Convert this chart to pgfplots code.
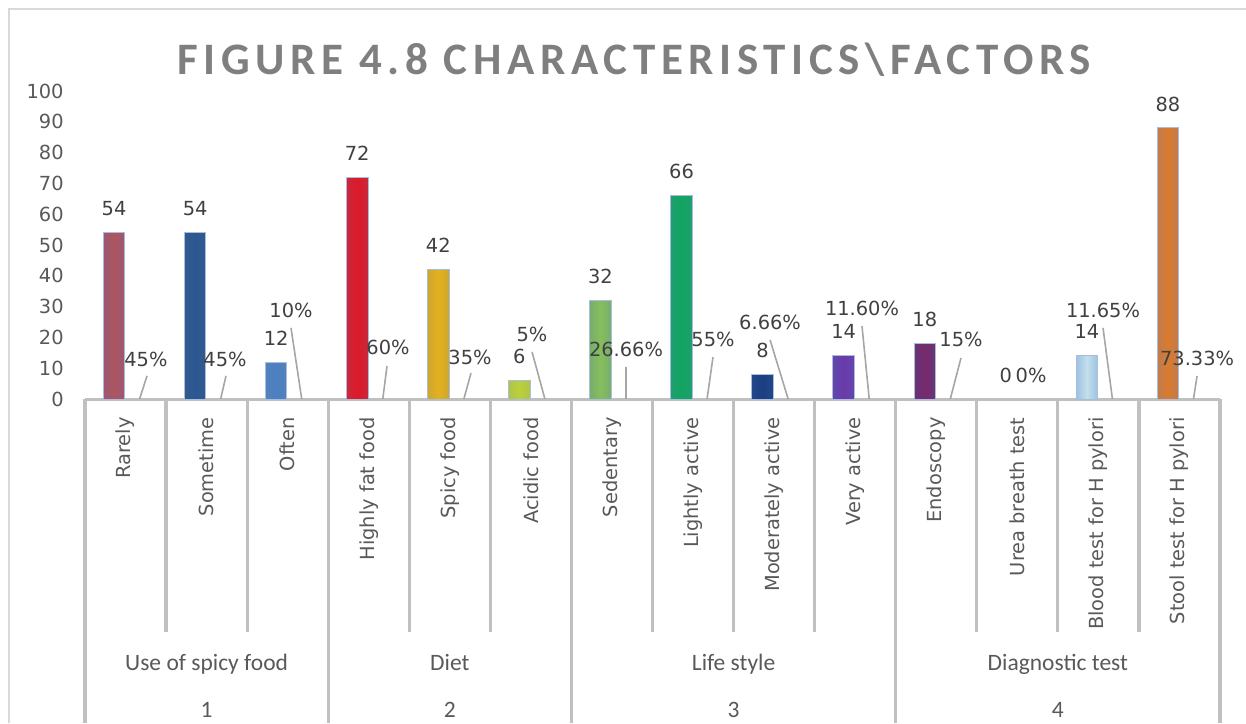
\documentclass[border=0pt]{standalone}
\usepackage{fontspec}
\setmainfont{DejaVu Sans}
\newfontfamily\calibri{Carlito}
\newfontfamily\titlefont[LetterSpace=12.5]{Carlito}
\usepackage{pgfplots}
\pgfplotsset{compat=1.18}

\definecolor{tickc}{HTML}{595959}
\definecolor{labc}{HTML}{404040}
\definecolor{axgray}{HTML}{C0C0C0}
\definecolor{framegray}{HTML}{D9D9D9}
\definecolor{ttl}{HTML}{7F7F7F}
\definecolor{leadc}{HTML}{A6A6A6}
\definecolor{bord}{HTML}{A9BEDD}
\definecolor{r0i}{HTML}{AD5562}\definecolor{r0o}{HTML}{8C5A7E}
\definecolor{r1i}{HTML}{2B5792}\definecolor{r1o}{HTML}{3A5C8C}
\definecolor{r2i}{HTML}{4C80C0}\definecolor{r2o}{HTML}{5882BD}
\definecolor{r3i}{HTML}{DC1A28}\definecolor{r3o}{HTML}{B8344C}
\definecolor{r4i}{HTML}{E3B11E}\definecolor{r4o}{HTML}{B9A03E}
\definecolor{r5i}{HTML}{BCD03A}\definecolor{r5o}{HTML}{A3BC55}
\definecolor{r6i}{HTML}{86BE5C}\definecolor{r6o}{HTML}{6BA07C}
\definecolor{r7i}{HTML}{12A45E}\definecolor{r7o}{HTML}{2A9A84}
\definecolor{r8i}{HTML}{1A3E80}\definecolor{r8o}{HTML}{2D4F90}
\definecolor{r9i}{HTML}{6A3AAA}\definecolor{r9o}{HTML}{5B52AC}
\definecolor{r10i}{HTML}{772A6B}\definecolor{r10o}{HTML}{5E3C80}
\definecolor{r12i}{HTML}{C4DFEC}\definecolor{r12o}{HTML}{7AAAD9}
\definecolor{r13i}{HTML}{DA7B2E}\definecolor{r13o}{HTML}{A87C6C}

\pgfplotsset{
  mybar/.style 2 args={ybar, bar width=10.75pt, bar shift=-5.75pt,
    draw=bord, line width=0.5pt,
    left color=#1!45!#2, right color=#1!45!#2, middle color=#1,
    nodes near coords},
}
\tikzset{
  pct/.style={font=\fontsize{9.7}{11}\selectfont, text=labc, inner sep=0pt},
  lead/.style={draw=leadc, line width=0.8pt},
  divl/.style={draw=axgray, line width=1.6pt},
  grp/.style={font=\calibri\fontsize{11.75}{13}\selectfont, text=tickc, inner sep=0pt, anchor=base},
}

\begin{document}
\begin{tikzpicture}[x=0.5pt,y=0.5pt]
\useasboundingbox (0,0) rectangle (1246,723);
\draw[framegray, line width=1pt] (8.5,0) -- (8.5,714) -- (1246,714);
\node[anchor=base, font=\titlefont\bfseries\fontsize{22.5}{26}\selectfont, text=ttl, inner sep=0pt] at (634,648) {FIGURE 4.8 CHARACTERISTICS\textbackslash FACTORS};
\begin{axis}[
  at={(42.5pt,162pt)}, anchor=south west,
  scale only axis, width=567.5pt, height=154pt,
  xmin=-0.5, xmax=13.5, ymin=0, ymax=100,
  clip=false,
  axis lines*=left,
  x axis line style={draw=axgray, line width=1.5pt},
  y axis line style={draw=none},
  major tick length=0pt,
  tick style={draw=none},
  ytick={0,10,...,100},
  /pgf/number format/assume math mode=true,
  yticklabel style={font=\fontsize{9.7}{11}\selectfont, text=tickc, inner sep=0pt, anchor=east, xshift=-10.5pt},
  xtick={0,...,13},
  xticklabels={Rarely, Sometime, Often, Highly fat food, Spicy food, Acidic food, Sedentary, Lightly active, Moderately active, Very active, Endoscopy, Urea breath test, Blood test for H pylori, Stool test for H pylori},
  xticklabel style={font=\fontsize{9.7}{11}\selectfont, text=tickc, rotate=90, anchor=east, inner sep=0pt},
  xticklabel shift=9pt,
  every node near coord/.append style={font=\fontsize{9.7}{11}\selectfont, text=labc, anchor=center, xshift=-5.75pt, yshift=12pt, inner sep=0pt},
]
% dividers
\pgfplotsinvokeforeach{0.5,1.5,3.5,4.5,6.5,7.5,8.5,10.5,11.5,12.5}{
  \draw[divl] (axis cs:#1,0) -- ++(0pt,-116.5pt);
}
\pgfplotsinvokeforeach{-0.5,2.5,5.5,9.5,13.5}{
  \draw[divl] (axis cs:#1,0) -- ++(0pt,-162pt);
}
% bars (counts)
\addplot[mybar={r0i}{r0o}] coordinates {(0,54)};
\addplot[mybar={r1i}{r1o}] coordinates {(1,54)};
\addplot[mybar={r2i}{r2o}] coordinates {(2,12)};
\addplot[mybar={r3i}{r3o}] coordinates {(3,72)};
\addplot[mybar={r4i}{r4o}] coordinates {(4,42)};
\addplot[mybar={r5i}{r5o}] coordinates {(5,6)};
\addplot[mybar={r6i}{r6o}] coordinates {(6,32)};
\addplot[mybar={r7i}{r7o}] coordinates {(7,66)};
\addplot[mybar={r8i}{r8o}] coordinates {(8,8)};
\addplot[mybar={r9i}{r9o}] coordinates {(9,14)};
\addplot[mybar={r10i}{r10o}] coordinates {(10,18)};
\addplot[ybar, bar width=10.75pt, bar shift=-5.75pt, draw=none, fill=none, nodes near coords] coordinates {(11,0)};
\addplot[mybar={r12i}{r12o}] coordinates {(12,14)};
\addplot[mybar={r13i}{r13o}] coordinates {(13,88)};
% percentage labels with leader lines
\node[pct] at (axis cs:0.252,13.0) {45\%};
\draw[lead] (axis cs:0.265,7.5) -- (axis cs:0.173,0);
\node[pct] at (axis cs:1.227,13.0) {45\%};
\draw[lead] (axis cs:1.239,7.5) -- (axis cs:1.173,0);
\node[pct] at (axis cs:2.041,28.9) {10\%};
\draw[lead] (axis cs:2.041,23.1) -- (axis cs:2.173,0);
\node[pct] at (axis cs:3.238,16.6) {60\%};
\draw[lead] (axis cs:3.225,10.7) -- (axis cs:3.173,0);
\node[pct] at (axis cs:4.249,13.6) {35\%};
\draw[lead] (axis cs:4.261,8.4) -- (axis cs:4.173,0);
\node[pct] at (axis cs:5.014,21.1) {5\%};
\draw[lead] (axis cs:5.014,15.3) -- (axis cs:5.173,0);
\node[pct] at (axis cs:6.173,16.2) {26.66\%};
\draw[lead] (axis cs:6.173,10.4) -- (axis cs:6.173,0);
\node[pct] at (axis cs:7.246,19.5) {55\%};
\draw[lead] (axis cs:7.246,13.6) -- (axis cs:7.173,0);
\node[pct] at (axis cs:7.95,25.0) {6.66\%};
\draw[lead] (axis cs:7.95,19.2) -- (axis cs:8.173,0);
\node[pct] at (axis cs:9.084,29.5) {11.60\%};
\draw[lead] (axis cs:9.084,23.7) -- (axis cs:9.173,0);
\node[pct] at (axis cs:10.305,19.2) {15\%};
\draw[lead] (axis cs:10.305,13.3) -- (axis cs:10.173,0);
\node[pct] at (axis cs:11.17,7.8) {0\%};
\node[pct] at (axis cs:12.057,28.9) {11.65\%};
\draw[lead] (axis cs:12.057,23.1) -- (axis cs:12.173,0);
\node[pct] at (axis cs:13.217,13.3) {73.33\%};
\draw[lead] (axis cs:13.217,7.5) -- (axis cs:13.173,0);
% group labels
\node[grp, yshift=-135.5pt] at (axis cs:1,0) {Use of spicy food};
\node[grp, yshift=-135.5pt] at (axis cs:4,0) {Diet};
\node[grp, yshift=-135.5pt] at (axis cs:7.5,0) {Life style};
\node[grp, yshift=-135.5pt] at (axis cs:11.5,0) {Diagnostic test};
\node[grp, yshift=-159pt] at (axis cs:1,0) {1};
\node[grp, yshift=-159pt] at (axis cs:4,0) {2};
\node[grp, yshift=-159pt] at (axis cs:7.5,0) {3};
\node[grp, yshift=-159pt] at (axis cs:11.5,0) {4};
\end{axis}
\end{tikzpicture}
\end{document}
